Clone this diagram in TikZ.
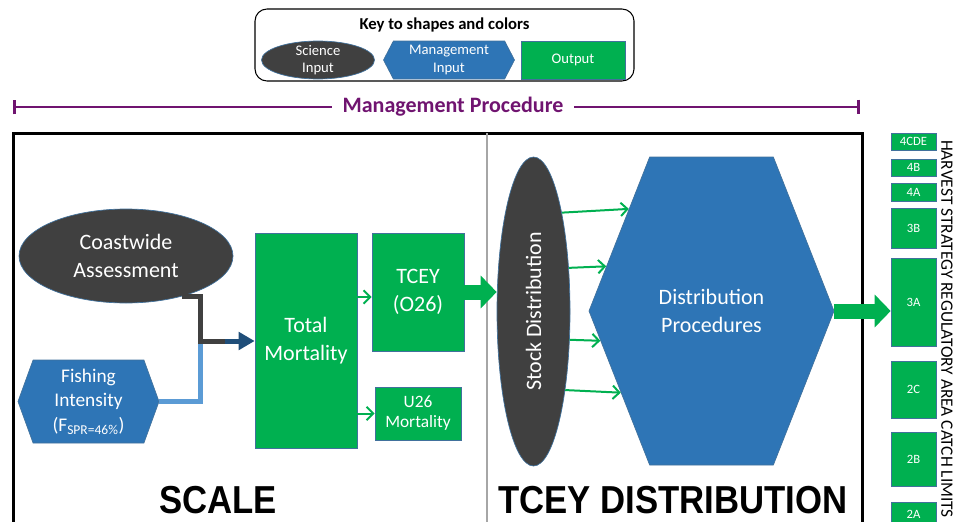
\documentclass[tikz,border=0pt]{standalone}
\usepackage{fontspec}
\setmainfont{Carlito}
\newfontfamily\narrowbold[FakeStretch=0.89]{Liberation Sans Bold}
\usetikzlibrary{shapes.geometric,shapes.symbols,arrows.meta}

\definecolor{outgreen}{HTML}{00B050}
\definecolor{mgmtblue}{HTML}{2E75B6}
\definecolor{scigrey}{HTML}{404040}
\definecolor{edgeblue}{HTML}{41719C}
\definecolor{darkblue}{HTML}{1F4E79}
\definecolor{lightblue}{HTML}{5B9BD5}
\definecolor{procpurple}{RGB}{112,20,112}

\begin{document}
\begin{tikzpicture}
	[x=0.75pt,y=-0.75pt,
	every node/.style={text=white,align=center},
	science/.style={ellipse,fill=scigrey,draw=edgeblue,line width=0.5pt},
	mgmt/.style={signal,signal to=west and east,signal from=nowhere,fill=mgmtblue,draw=edgeblue,line width=0.5pt},
	output/.style={rectangle,fill=outgreen,draw=edgeblue,line width=0.5pt},
	keyfont/.style={inner sep=0pt,inner ysep=-3pt,font=\fontsize{11}{13}\selectfont},
	bigfont/.style={font=\fontsize{16.5}{20.5}\selectfont},
	thinarrow/.style={draw=outgreen,line width=1.5pt,-{Straight Barb[length=5pt,width=10pt]}},
	blockarrow/.style={draw=outgreen,line width=11.25pt,-{Triangle[length=12pt,width=24pt]}},
	sciline/.style={draw=scigrey,line width=3.75pt},
	fishline/.style={draw=lightblue,line width=3.75pt}]

	\useasboundingbox (0,0) rectangle (959,521);
	\clip (0,0) rectangle (959,521);

	% key to shapes and colors
	\draw[line width=0.8pt,rounded corners=9pt] (255,9) rectangle (634,81);
	\node[text=black,font=\bfseries\fontsize{12.5}{14}\selectfont] (keytitle) at (444.5,25) {Key to shapes and colors};
	\node[science,keyfont,minimum width=84.75pt,minimum height=28.5pt] (keysci) at (318,60) {Science\\Input};
	\node[mgmt,keyfont,signal pointer angle=125,minimum width=98.25pt,minimum height=28.5pt] (keymgmt) at (449,60) {Management\\Input};
	\node[output,keyfont,minimum width=78pt,minimum height=28.5pt] (keyout) at (573,60) {Output};

	% management procedure bar
	\node[text=procpurple,font=\bfseries\fontsize{16.5}{18}\selectfont,inner xsep=8pt] (mp) at (453,107) {Management Procedure};
	\draw[procpurple,line width=2pt,{Bar[width=11pt]}-] (13,107) -- (mp.west);
	\draw[procpurple,line width=2pt,-{Bar[width=11pt]}] (mp.east) -- (860,107);

	% frame
	\draw[line width=2.25pt] (13,133) rectangle (862,560);
	\draw[gray!70,line width=1.5pt] (487,133) -- (487,560);

	% scale
	\node[science,bigfont,minimum width=160.5pt,minimum height=70.5pt] (ca) at (126,256) {Coastwide\\Assessment};
	\node[mgmt,signal pointer angle=140,minimum width=105.75pt,minimum height=62.25pt,font=\fontsize{14.5}{18.5}\selectfont] (fi) at (88.5,401.5) {Fishing\\Intensity\\(F\textsubscript{SPR=46\%})};
	\node[output,bigfont,minimum width=76.5pt,minimum height=161.25pt] (tm) at (306,340.5) {Total\\Mortality};
	\node[output,bigfont,minimum width=69pt,minimum height=88.5pt] (tcey) at (418,292) {TCEY\\(O26)};
	\node[output,minimum width=64.5pt,minimum height=39.75pt,font=\fontsize{13}{15}\selectfont] (u26) at (418,413.5) {U26\\Mortality};

	\coordinate (joint) at (200,341);
	\coordinate (mix) at (225,341);
	\draw[fishline] (fi.east) -| (joint);
	\draw[sciline] (ca.-36) -| (joint) -- (mix);
	\draw[draw=darkblue,line width=3.75pt,-{Triangle[length=12pt,width=13pt]}] (mix) -- (mix -| tm.west);
	\draw[thinarrow] (tm.east |- 0,297) -- (tcey.west |- 0,297);
	\draw[thinarrow] (tm.east |- u26.west) -- (u26.west);

	% tcey distribution
	\node[science,minimum width=54.75pt,minimum height=231.75pt,font=\fontsize{16.5}{20}\selectfont] (sd) at (533.5,311.5) {\rotatebox{90}{Stock Distribution}};
	\node[mgmt,bigfont,signal pointer angle=137,minimum width=183.75pt,minimum height=231pt] (dp) at (711.5,311) {Distribution\\Procedures};

	\draw[blockarrow] (tcey.east) -- (tcey.east -| sd.west);
	\draw[thinarrow] (sd.74.6) -- (dp.129.7);
	\draw[thinarrow] (sd.51.2) -- (dp.157.8);
	\draw[thinarrow] (sd.-38.4) -- (dp.-165.4);
	\draw[thinarrow] (sd.-68.5) -- (dp.-138.6);

	\node[text=black,font=\narrowbold\fontsize{29.25}{30}\selectfont] (scale) at (218,500) {SCALE};
	\node[text=black,font=\narrowbold\fontsize{29.25}{30}\selectfont] (dist) at (673,500) {TCEY DISTRIBUTION};

	% regulatory areas
	\foreach \area/\top/\bot in {4CDE/133/150,4B/159/176,4A/183/201,3B/208/248,3A/258/346,2C/361/418,2B/432/486,2A/502/527}
		\node[output,minimum width=33.75pt,minimum height={(\bot-\top)*0.75pt},font=\fontsize{9.5}{10}\selectfont] (r\area) at (913.5,{(\top+\bot)/2}) {\area};
	\draw[blockarrow] (dp.east) -- (dp.east -| r3A.west);
	\node[text=black,rotate=-90,font=\fontsize{13}{14}\selectfont] (hs) at (947,329) {HARVEST STRATEGY REGULATORY AREA CATCH LIMITS};
\end{tikzpicture}
\end{document}
